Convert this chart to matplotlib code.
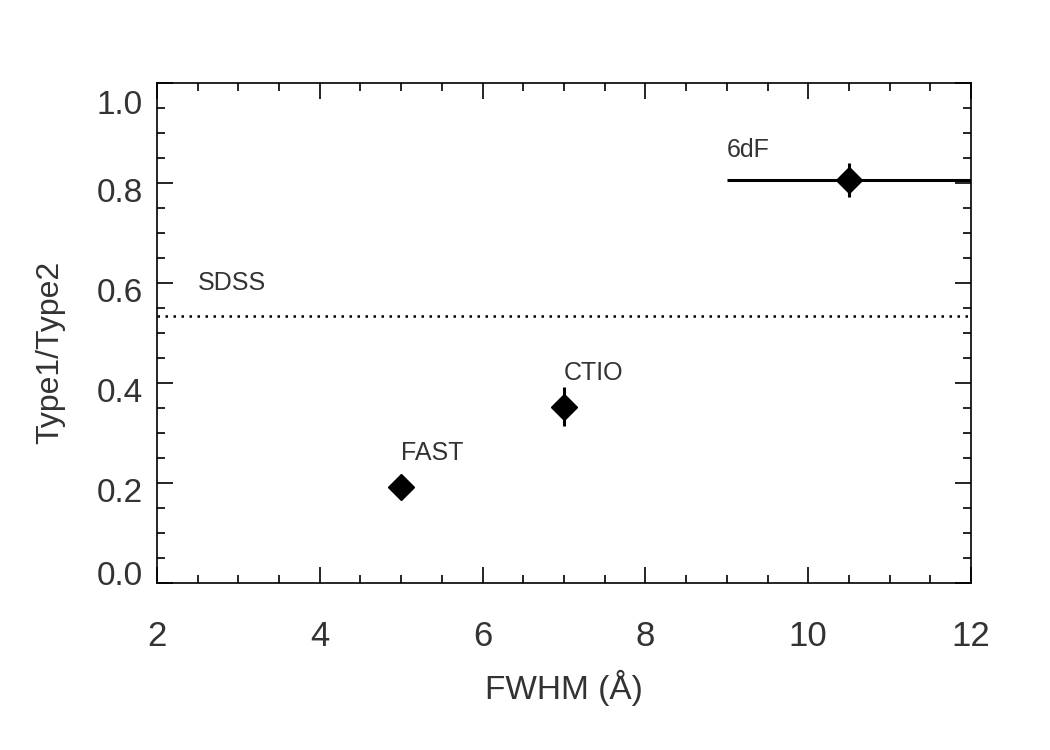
import matplotlib
matplotlib.use("Agg")
import matplotlib.pyplot as plt
import matplotlib.transforms as mtransforms
from matplotlib.ticker import MultipleLocator, FormatStrFormatter

plt.rcParams['font.family'] = ['Liberation Sans', 'DejaVu Sans']

# survey points
surveys = ["FAST", "CTIO", "6dF"]
fwhm = [5.0, 7.0, 10.5]
ratio = [0.192, 0.352, 0.806]
ratio_err = [0.0, 0.039, 0.034]
fwhm_err = [0.0, 0.0, 1.5]
label_pos = [(5.0, 0.26), (7.0, 0.42), (9.0, 0.866)]

# SDSS reference level
sdss_ratio = 0.534
sdss_label_pos = (2.5, 0.60)

fig = plt.figure(figsize=(10.5, 7.5), dpi=100)
ax = fig.add_axes([0.1495, 0.2227, 0.7753, 0.6666])

ax.axhline(sdss_ratio, color='black', linestyle=(0, (1, 2.2)), linewidth=1.8)
ax.text(*sdss_label_pos, "SDSS", fontsize=18, color='#333333', va='center', ha='left')

for name, x, y, ye, xe, lp in zip(surveys, fwhm, ratio, ratio_err, fwhm_err, label_pos):
    ax.errorbar(x, y, yerr=ye if ye > 0 else None, xerr=xe if xe > 0 else None,
                fmt='D', color='black', markersize=13, elinewidth=2.2, capsize=0)
    ax.text(lp[0], lp[1], name, fontsize=18, color='#333333', va='center', ha='left')

ax.set_xlim(2, 12)
ax.set_ylim(0, 1.0)
ax.xaxis.set_major_locator(MultipleLocator(2))
ax.xaxis.set_minor_locator(MultipleLocator(0.5))
ax.yaxis.set_major_locator(MultipleLocator(0.2))
ax.yaxis.set_minor_locator(MultipleLocator(0.05))
ax.xaxis.set_major_formatter(FormatStrFormatter('%d'))
ax.yaxis.set_major_formatter(FormatStrFormatter('%.1f'))

ax.tick_params(which='both', direction='in', top=True, right=True,
               labelcolor='#333333', width=1.2)
ax.tick_params(which='major', length=11.5)
ax.tick_params(which='minor', length=5.5)
ax.tick_params(axis='y', which='major', pad=10, labelsize=24)
ax.tick_params(axis='x', which='major', pad=27, labelsize=25)
for s in ax.spines.values():
    s.set_linewidth(1.2)

ax.set_xlabel("FWHM (Å)", fontsize=24, color='#333333', labelpad=12)
ax.set_ylabel("Type1/Type2", fontsize=23, color='#333333')
ax.yaxis.set_label_coords(-0.113, 0.462)

# nudge y tick labels as in the original rendering
fig.canvas.draw()
for lab in ax.get_yticklabels():
    v = lab.get_position()[1]
    dy = -7
    if abs(v) < 1e-6:
        dy = 10
    elif abs(v - 1.0) < 1e-6:
        dy = -19
    lab.set_transform(lab.get_transform() +
                      mtransforms.ScaledTranslation(0, dy / 100, fig.dpi_scale_trans))

fig.savefig("out.png", dpi=100)
